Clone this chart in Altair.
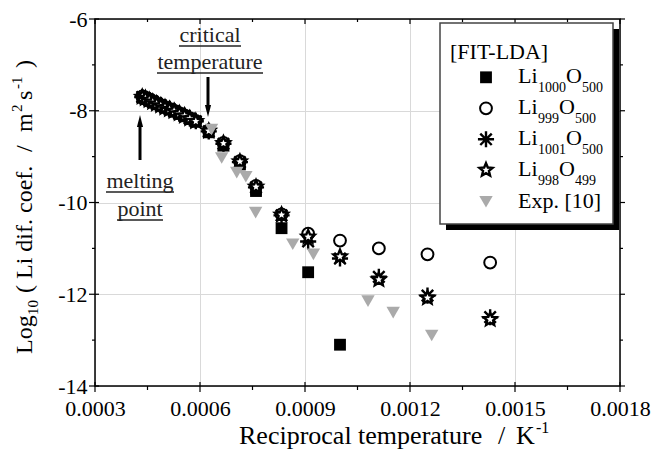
import altair as alt
import pandas as pd

FONT = "Liberation Serif"
X0, Y0 = 95, 19          # page position of plot origin
W, H = 525, 367          # plot area size

# ---------------- data ----------------
x_ticks = [0.0003, 0.0006, 0.0009, 0.0012, 0.0015, 0.0018]
x_minor = [0.00045, 0.00075, 0.00105, 0.00135, 0.00165]
y_ticks = [-14, -12, -10, -8, -6]
y_minor = [-13, -11, -9, -7]

chain_x = [0.000435, 0.000444, 0.000455, 0.000465, 0.000476, 0.000488, 0.000500,
           0.000513, 0.000526, 0.000541, 0.000556, 0.000571, 0.000588]
mid_x = [0.000625, 0.000667, 0.000714, 0.00076, 0.000833, 0.000909, 0.001,
         0.001111, 0.00125, 0.001429]

sq_y = [-7.71, -7.74, -7.78, -7.81, -7.85, -7.89, -7.93, -7.97, -8.02, -8.07, -8.12, -8.18, -8.24,
        -8.47, -8.76, -9.17, -9.75, -10.56, -11.52, -13.10]
circ_y = [-7.69, -7.72, -7.76, -7.80, -7.84, -7.88, -7.92, -7.96, -8.00, -8.05, -8.10, -8.16, -8.22,
          -8.43, -8.70, -9.10, -9.64, -10.26, -10.68, -10.83, -11.00, -11.13, -11.31]
ast_y = [-7.70, -7.73, -7.77, -7.80, -7.84, -7.88, -7.92, -7.96, -8.01, -8.06, -8.11, -8.17, -8.23,
         -8.45, -8.72, -9.12, -9.67, -10.28, -10.85, -11.22, -11.62, -12.03, -12.50]
star_y = [-7.70, -7.73, -7.77, -7.81, -7.85, -7.89, -7.93, -7.97, -8.01, -8.06, -8.11, -8.17, -8.23,
          -8.44, -8.71, -9.11, -9.66, -10.27, -10.75, -11.18, -11.68, -12.08, -12.55]

exp_x = [0.000633, 0.000662, 0.000705, 0.000731, 0.000759, 0.000865, 0.000924,
         0.00108, 0.001152, 0.001262]
exp_y = [-8.41, -9.03, -9.35, -9.44, -10.22, -10.91, -11.13, -12.15, -12.40, -12.90]

all_x = chain_x + mid_x
df_sq = pd.DataFrame({"x": all_x[:len(sq_y)], "y": sq_y})
df_circ = pd.DataFrame({"x": all_x, "y": circ_y})
df_ast = pd.DataFrame({"x": all_x, "y": ast_y})
df_star = pd.DataFrame({"x": all_x, "y": star_y})
df_exp = pd.DataFrame({"x": exp_x, "y": exp_y})

# ---------------- styles ----------------
AST = "M-1,0L1,0M0,-1L0,1M-0.71,-0.71L0.71,0.71M-0.71,0.71L0.71,-0.71"
STAR = ("M0,-1L0.265,-0.364L0.951,-0.309L0.428,0.139L0.588,0.809L0,0.45"
        "L-0.588,0.809L-0.428,0.139L-0.951,-0.309L-0.265,-0.364Z")
GRAY = "#aaaaaa"

xs = alt.Scale(domain=[0.0003, 0.0018], nice=False, zero=False)
ys = alt.Scale(domain=[-14, -6], nice=False, zero=False)

x_axis = alt.Axis(values=x_ticks, format=".4f", title=None, ticks=False, tickSize=0,
                  domain=False, grid=True, gridColor="#d9d9d9", gridWidth=1,
                  labelFont=FONT, labelFontSize=22, labelColor="black", labelPadding=12,
                  labelFlush=False, labelOverlap=False)
y_axis = alt.Axis(values=y_ticks, labelExpr="'' + datum.value", title=None, ticks=False,
                  tickSize=0, domain=False, grid=True, gridColor="#d9d9d9", gridWidth=1,
                  labelFont=FONT, labelFontSize=22, labelColor="black", labelPadding=8,
                  labelOverlap=False)

XE = alt.X("x:Q", scale=xs, axis=x_axis)
YE = alt.Y("y:Q", scale=ys, axis=y_axis)

sq = alt.Chart(df_sq).mark_point(shape="square", filled=True, color="black",
                                 size=140, opacity=1).encode(x=XE, y=YE)
circ = alt.Chart(df_circ).mark_point(shape="circle", filled=False, color="black",
                                     strokeWidth=2, size=140, opacity=1).encode(x=XE, y=YE)
ast = alt.Chart(df_ast).mark_point(shape=AST, filled=False, color="black",
                                   strokeWidth=2.4, size=260, opacity=1).encode(x=XE, y=YE)
star = alt.Chart(df_star).mark_point(shape=STAR, filled=True, fill="white",
                                     stroke="black", strokeWidth=2.4, size=190,
                                     opacity=1).encode(x=XE, y=YE)
expm = alt.Chart(df_exp).mark_point(shape="triangle-down", filled=True, color=GRAY,
                                    size=180, opacity=1).encode(x=XE, y=YE)

# ---------------- ticks ----------------
def xtick(vals, y1, y2):
    return alt.Chart(pd.DataFrame({"x": vals})).mark_rule(color="black", strokeWidth=1.2).encode(
        x=XE, y=alt.value(y1), y2=alt.value(y2))


def ytick(vals, x1, x2):
    return alt.Chart(pd.DataFrame({"y": vals})).mark_rule(color="black", strokeWidth=1.2).encode(
        y=YE, x=alt.value(x1), x2=alt.value(x2))


ticks = [
    xtick(x_ticks, H - 4, H + 6), xtick(x_minor, H, H + 4),
    xtick(x_ticks, 0, 5), xtick(x_minor, 0, 3),
    ytick(y_ticks, -6, 4), ytick(y_minor, -3, 0),
    ytick(y_ticks, W, W + 5), ytick(y_minor, W, W + 3),
]

# ---------------- helpers for annotations (page coords) ----------------
one = pd.DataFrame({"k": [0]})


def T(s, px, py, size=22, align="left", angle=0, color="black"):
    return alt.Chart(one).mark_text(text=s, font=FONT, fontSize=size, align=align,
                                    baseline="alphabetic", angle=angle, color=color).encode(
        x=alt.value(px - X0), y=alt.value(py - Y0))


def R(px1, py1, px2, py2, color="black", w=1.5):
    return alt.Chart(one).mark_rule(color=color, strokeWidth=w).encode(
        x=alt.value(px1 - X0), x2=alt.value(px2 - X0),
        y=alt.value(py1 - Y0), y2=alt.value(py2 - Y0))


def BOX(px1, py1, px2, py2, fill, stroke=None, w=0):
    kw = dict(fill=fill, strokeWidth=w)
    if stroke:
        kw["stroke"] = stroke
    return alt.Chart(one).mark_rect(**kw).encode(
        x=alt.value(px1 - X0), x2=alt.value(px2 - X0),
        y=alt.value(py1 - Y0), y2=alt.value(py2 - Y0))


def P(px, py, **kw):
    return alt.Chart(one).mark_point(opacity=1, **kw).encode(
        x=alt.value(px - X0), y=alt.value(py - Y0))


# plot frame
frame = alt.Chart(one).mark_rect(fill="transparent", stroke="black", strokeWidth=1.5).encode(
    x=alt.value(0), x2=alt.value(W), y=alt.value(0), y2=alt.value(H))

HEAD = "M-0.5,-1L0.5,-1L0,1Z"
HEAD_UP = "M-0.5,1L0.5,1L0,-1Z"
ANN = "#222222"

annotations = [
    T("critical", 210, 42, align="center", color=ANN), R(179, 46, 241, 46, ANN, 1.3),
    T("temperature", 210, 69, align="center", color=ANN), R(157, 73, 263, 73, ANN, 1.3),
    R(208, 77, 208, 106, "black", 3),
    P(208, 111, shape=HEAD, filled=True, color="black", size=150),
    T("melting", 140, 188, align="center", color=ANN), R(106, 192, 174, 192, ANN, 1.3),
    T("point", 140, 216, align="center", color=ANN), R(117, 220, 163, 220, ANN, 1.3),
    R(140, 160, 140, 126, "black", 3),
    P(140, 121, shape=HEAD_UP, filled=True, color="black", size=150),
]

# ---------------- legend ----------------
rows = [77.3, 108.3, 139.3, 170.0, 201.7]
MX, TX = 486, 518
legend = [
    BOX(446, 29, 619, 230, "black"),
    BOX(440, 23, 613, 224, "white", "#444444", 1.5),
    T("[FIT-LDA]", 450, 59),
    P(MX, rows[0], shape="square", filled=True, color="black", size=140),
    P(MX, rows[1], shape="circle", filled=False, color="black", strokeWidth=2, size=140),
    P(MX, rows[2], shape=AST, filled=False, color="black", strokeWidth=2.4, size=260),
    P(MX, rows[3], shape=STAR, filled=True, fill="white", stroke="black", strokeWidth=2.4, size=190),
    P(MX, rows[4], shape="triangle-down", filled=True, color=GRAY, size=180),
]
leg_text = [
    ("1000", "500"), ("999", "500"), ("1001", "500"), ("998", "499"),
]
for i, (s1, s2) in enumerate(leg_text):
    b = rows[i] + 6
    o_x = 538 + 7 * len(s1)
    legend += [
        T("Li", TX, b),
        T(s1, 538, b + 9, size=14),
        T("O", o_x, b),
        T(s2, o_x + 16, b + 9, size=14),
    ]
legend.append(T("Exp. [10]", TX, rows[4] + 6.6))

# ---------------- axis titles ----------------
titles = [
    T("Reciprocal temperature", 239, 444, size=26),
    T("/", 498, 444, size=26),
    T("K", 516, 444, size=26),
    T("-1", 536, 433, size=16),
    T("Log", 32, 354, size=24, angle=270),
    T("10", 38, 315, size=15, angle=270),
    T("(\u00a0Li\u00a0dif.\u00a0coef.", 32, 293, size=24, angle=270),
    T("/", 32, 152, size=24, angle=270),
    T("m", 32, 132, size=24, angle=270),
    T("2", 22, 112, size=15, angle=270),
    T("s", 32, 100, size=24, angle=270),
    T("-1", 22, 89, size=15, angle=270),
    T(")", 32, 68, size=24, angle=270),
]

chart = alt.layer(
    sq, circ, ast, star, expm, *ticks, frame, *annotations, *legend, *titles
).properties(
    width=W, height=H,
    padding={"left": X0, "top": Y0, "right": 651 - X0 - W, "bottom": 453 - Y0 - H},
    autosize=alt.AutoSizeParams(type="none"),
).configure_view(
    stroke=None
).configure(background="white")

chart.save("out.html", embed_options={"renderer": "svg", "actions": False})
